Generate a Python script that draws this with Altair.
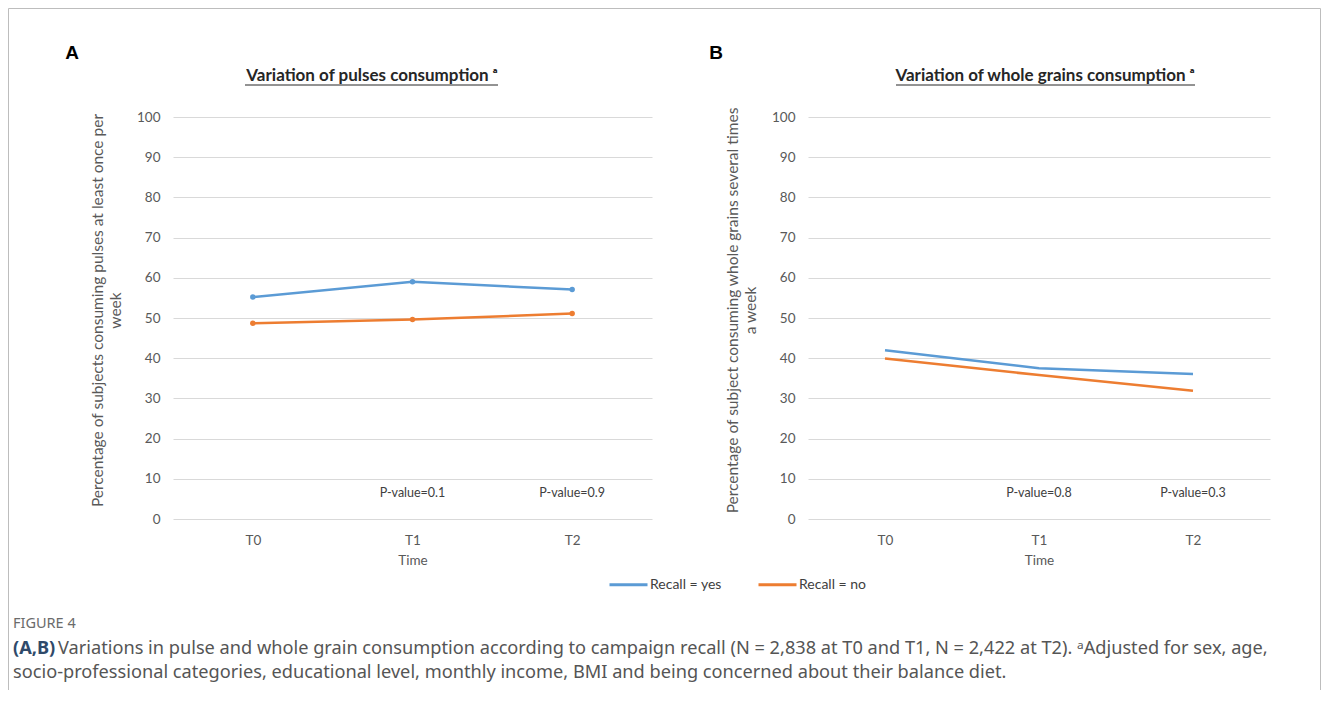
import altair as alt
import pandas as pd

# ---------------- data ----------------
times = ["T0", "T1", "T2"]
series = ["Recall = yes", "Recall = no"]
colors = ["#5B9BD5", "#ED7D31"]

pulses_yes = [55.2, 59.0, 57.1]
pulses_no = [48.7, 49.6, 51.1]
grains_yes = [42.0, 37.5, 36.1]
grains_no = [39.9, 35.8, 31.9]

pvalue_times = ["T1", "T2"]
pulses_pvalues = ["P-value=0.1", "P-value=0.9"]
grains_pvalues = ["P-value=0.8", "P-value=0.3"]

y_ticks = [0, 10, 20, 30, 40, 50, 60, 70, 80, 90, 100]

pulses_ytitle = ["Percentage of subjects consuming pulses at least once per", "week"]
grains_ytitle = ["Percentage of subject consuming whole grains several times", "a week"]
pulses_title = "Variation of pulses consumption \u1d43"
grains_title = "Variation of whole grains consumption \u1d43"

caption_label = "FIGURE 4"
caption_bold = "(A,B)"
caption_line1 = ("Variations in pulse and whole grain consumption according to campaign recall "
                 "(N = 2,838 at T0 and T1, N = 2,422 at T2). \u1d43Adjusted for sex, age,")
caption_line2 = ("socio-professional categories, educational level, monthly income, BMI and "
                 "being concerned about their balance diet.")


def long_table(yes, no):
    rows = []
    for t, v in zip(times, yes):
        rows.append({"time": t, "recall": series[0], "value": v})
    for t, v in zip(times, no):
        rows.append({"time": t, "recall": series[1], "value": v})
    return pd.DataFrame(rows)


FONT = "Lato"
AXIS_COLOR = "#595959"
H = 402
one = pd.DataFrame({"k": [0]})


def text_layer(txt, x, y, **kw):
    return alt.Chart(pd.DataFrame({"t": [txt]})).mark_text(**kw).encode(
        x=alt.value(x), y=alt.value(y), text="t:N")


def panel(df, pv, width, ytitle, letter, title, title_cx, ul_x1, ul_x2, markers):
    x = alt.X("time:N", scale=alt.Scale(type="point", padding=0.5, domain=times),
              axis=alt.Axis(title="Time", labelAngle=0, domain=False, ticks=False, grid=False,
                            labelPadding=14, titlePadding=7, labelFont=FONT, titleFont=FONT,
                            labelFontSize=13.5, titleFontSize=13.5, labelColor=AXIS_COLOR,
                            titleColor=AXIS_COLOR, titleFontWeight="normal"))
    y = alt.Y("value:Q", scale=alt.Scale(domain=[0, 100], nice=False),
              axis=alt.Axis(values=y_ticks, title=ytitle, domain=False, ticks=False,
                            grid=True, gridColor="#D9D9D9", gridWidth=1, labelPadding=13,
                            titlePadding=13, labelFont=FONT, titleFont=FONT, labelFontSize=13.5,
                            titleFontSize=15.5, labelColor=AXIS_COLOR, titleColor=AXIS_COLOR,
                            titleFontWeight="normal", titleLineHeight=18, titleY=193))
    color = alt.Color("recall:N", scale=alt.Scale(domain=series, range=colors),
                      legend=alt.Legend(title=None))
    if markers:
        lines = alt.Chart(df).mark_line(strokeWidth=2.5, point=alt.OverlayMarkDef(filled=True, size=30))
    else:
        lines = alt.Chart(df).mark_line(strokeWidth=2.5)
    lines = lines.encode(x=x, y=y, color=color)

    pv_layer = alt.Chart(pv).mark_text(font=FONT, fontSize=12.5, color="#404040").encode(
        x=alt.X("time:N"), y=alt.datum(6.5), text="label:N")

    letter_l = text_layer(letter, -101 if letter == "A" else -92, -64,
                          font="Liberation Sans", fontSize=19, fontWeight="bold", color="#000000")
    title_l = text_layer(title, title_cx, -41, font=FONT, fontSize=17, fontWeight="bold",
                         color="#262626")
    underline = alt.Chart(one).mark_rule(color="#262626", strokeWidth=1).encode(
        x=alt.value(ul_x1), x2=alt.value(ul_x2), y=alt.value(-32))
    return alt.layer(lines, pv_layer, letter_l, title_l, underline).properties(width=width, height=H)


pulses_df = long_table(pulses_yes, pulses_no)
grains_df = long_table(grains_yes, grains_no)
pulses_pv = pd.DataFrame({"time": pvalue_times, "label": pulses_pvalues})
grains_pv = pd.DataFrame({"time": pvalue_times, "label": grains_pvalues})

A = panel(pulses_df, pulses_pv, 479, pulses_ytitle, "A", pulses_title, 199, 72, 325, True)
B = panel(grains_df, grains_pv, 462, grains_ytitle, "B", grains_title, 237, 88, 387, False)

# frame and caption (decoration placed relative to panel A)
frame_color = "#BDBDBD"
frame_left = alt.Chart(one).mark_rule(color=frame_color, strokeWidth=1).encode(
    x=alt.value(-164.5), y=alt.value(-108.5), y2=alt.value(573))
frame_top = alt.Chart(one).mark_rule(color=frame_color, strokeWidth=1).encode(
    x=alt.value(-164.5), x2=alt.value(1147.5), y=alt.value(-108.5))
frame_right = alt.Chart(one).mark_rule(color=frame_color, strokeWidth=1).encode(
    x=alt.value(1147.5), y=alt.value(-108.5), y2=alt.value(573))

CAP = 18.2
cap_fig = text_layer(caption_label, -160, 507, font="Noto Sans", fontSize=14.5, color="#6b6b6b",
                     align="left", baseline="middle")
cap_b = text_layer(caption_bold, -160, 532, font="Noto Sans", fontSize=CAP, fontWeight="bold",
                   color="#2f4a6a", align="left", baseline="middle")
cap_1 = text_layer(caption_line1, -115, 532, font="Noto Sans", fontSize=CAP, color="#555555",
                   align="left", baseline="middle")
cap_2 = text_layer(caption_line2, -160, 556, font="Noto Sans", fontSize=CAP, color="#555555",
                   align="left", baseline="middle")

A = alt.layer(A, frame_left, frame_top, frame_right, cap_fig, cap_b, cap_1, cap_2)

chart = alt.hconcat(A, B, spacing=156, bounds="flush").properties(padding=0).configure_view(
    stroke=None
).configure_legend(
    orient="none", legendX=435, legendY=447, direction="horizontal", symbolType="stroke",
    symbolStrokeWidth=3, symbolSize=1444, labelFont=FONT, labelFontSize=14,
    labelColor="#404040", columnPadding=30, labelOffset=1
)

chart.save("out.html", embed_options={"renderer": "svg", "actions": False})
